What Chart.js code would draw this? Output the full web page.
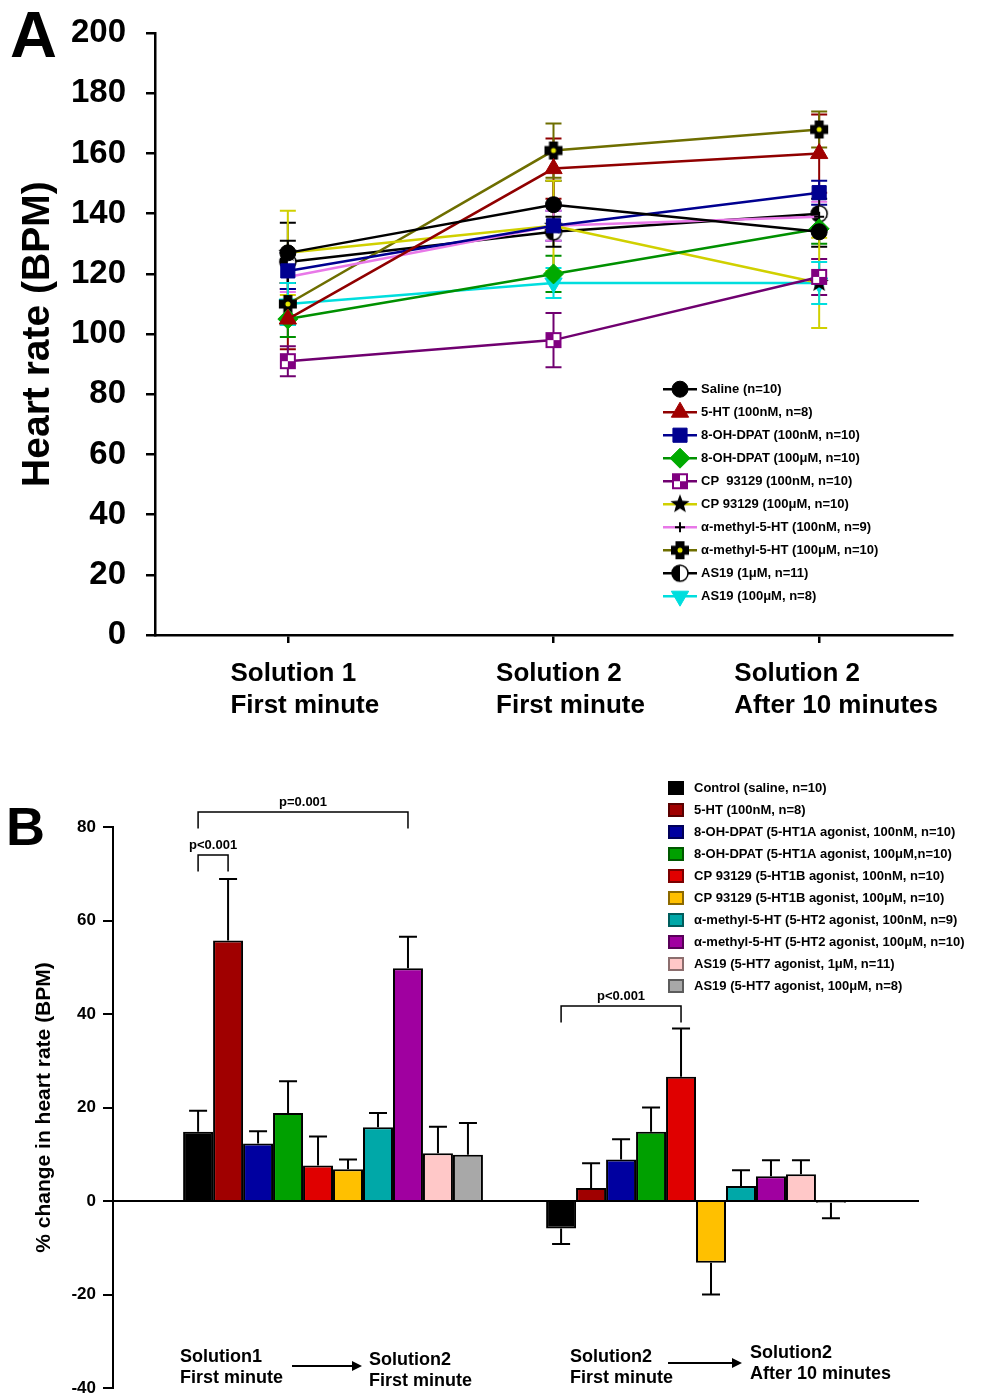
<!DOCTYPE html>
<html>
<head>
<meta charset="utf-8">
<script src="https://cdn.jsdelivr.net/npm/chart.js@4.4.0/dist/chart.umd.min.js"></script>
<style>
  html, body { margin: 0; padding: 0; background: #fff; overflow: hidden; }
  #boxA { position: absolute; left: 0; top: 0; }
  #boxB { position: absolute; left: 0; top: 740px; }
</style>
</head>
<body>
<canvas id="boxA" width="987" height="740"></canvas>
<canvas id="boxB" width="987" height="670"></canvas>
<script>
const FONT = '"Liberation Sans", Arial, Helvetica, sans-serif';
Chart.defaults.font.family = FONT;
Chart.defaults.color = '#000';

// ---------- panel A : heart rate (BPM) per stage ----------
const stagesA = [['Solution 1', 'First minute'], ['Solution 2', 'First minute'], ['Solution 2', 'After 10 minutes']];
const seriesA = [
  'Saline (n=10)', '5-HT (100nM, n=8)', '8-OH-DPAT (100nM, n=10)', '8-OH-DPAT (100μM, n=10)',
  'CP  93129 (100nM, n=10)', 'CP 93129 (100μM, n=10)', 'α-methyl-5-HT (100nM, n=9)',
  'α-methyl-5-HT (100μM, n=10)', 'AS19 (1μM, n=11)', 'AS19 (100μM, n=8)'
];
const salineBpm = [127, 143, 134],      salineSem = [10, 8, 5];
const serotoninBpm = [105, 155, 160],   serotoninSem = [10, 10, 13];
const dpatLowBpm = [121, 136, 147],     dpatLowSem = [6, 5, 4];
const dpatHighBpm = [105, 120, 135],    dpatHighSem = [6, 6, 5];
const cpLowBpm = [91, 98, 119],         cpLowSem = [5, 9, 6];
const cpHighBpm = [127, 136, 117],      cpHighSem = [14, 15, 15];
const methylLowBpm = [119, 136, 139],   methylLowSem = [5, 5, 5];
const methylHighBpm = [110, 161, 168],  methylHighSem = [7, 9, 6];
const as19LowBpm = [124, 134, 140],     as19LowSem = [7, 5, 5];
const as19HighBpm = [110, 117, 117],    as19HighSem = [7, 5, 7];

const meansA = [salineBpm, serotoninBpm, dpatLowBpm, dpatHighBpm, cpLowBpm, cpHighBpm, methylLowBpm, methylHighBpm, as19LowBpm, as19HighBpm];
const semsA = [salineSem, serotoninSem, dpatLowSem, dpatHighSem, cpLowSem, cpHighSem, methylLowSem, methylHighSem, as19LowSem, as19HighSem];

// ---------- panel B : % change in heart rate ----------
const treatmentsB = [
  'Control (saline, n=10)', '5-HT (100nM, n=8)', '8-OH-DPAT (5-HT1A agonist, 100nM, n=10)',
  '8-OH-DPAT (5-HT1A agonist, 100μM,n=10)', 'CP 93129 (5-HT1B agonist, 100nM, n=10)',
  'CP 93129 (5-HT1B agonist, 100μM, n=10)', 'α-methyl-5-HT (5-HT2 agonist, 100nM, n=9)',
  'α-methyl-5-HT (5-HT2 agonist, 100μM, n=10)', 'AS19 (5-HT7 agonist, 1μM, n=11)',
  'AS19 (5-HT7 agonist, 100μM, n=8)'
];
const changeFirstSwitch = [14.8, 55.7, 12.3, 18.8, 7.6, 6.8, 15.8, 49.8, 10.2, 9.9];
const semFirstSwitch    = [4.5, 13.2, 2.6, 6.8, 6.2, 2.1, 3.0, 6.7, 5.7, 6.8];
const changeAfter10     = [-5.9, 2.8, 8.9, 14.8, 26.6, -13.2, 3.2, 5.3, 5.7, -0.4];
const semAfter10        = [3.3, 5.3, 4.3, 5.2, 10.3, 6.8, 3.4, 3.4, 3.0, 3.3];
const switchesB = [
  [['Solution1', 'First minute'], ['Solution2', 'First minute']],
  [['Solution2', 'First minute'], ['Solution2', 'After 10 minutes']]
];
const comparisons = [
  { group: 0, from: 0, to: 7, level: 83.2, text: 'p=0.001' },
  { group: 0, from: 0, to: 1, level: 74.0, text: 'p<0.001' },
  { group: 1, from: 0, to: 4, level: 41.7, text: 'p<0.001' }
];

// ---------- marker images ----------
function makeMarker(size, paint) {
  const c = document.createElement('canvas');
  c.width = size; c.height = size;
  paint(c.getContext('2d'), size / 2);
  return c;
}
const starMarker = makeMarker(22, (g, m) => {
  g.beginPath();
  for (let k = 0; k < 10; k++) {
    const r = k % 2 ? 4.2 : 10;
    const a = -Math.PI / 2 + k * Math.PI / 5;
    g.lineTo(m + r * Math.cos(a), m + r * Math.sin(a));
  }
  g.closePath(); g.fillStyle = '#000'; g.fill();
});
const checkerMarker = makeMarker(18, (g) => {
  g.fillStyle = '#fff'; g.fillRect(1, 1, 16, 16);
  g.fillStyle = '#800080';
  g.fillRect(1, 1, 8, 8); g.fillRect(9, 9, 8, 8);
  g.strokeStyle = '#800080'; g.lineWidth = 2; g.strokeRect(2, 2, 14, 14);
});
const plusMarker = makeMarker(20, (g, m) => {
  g.fillStyle = '#000';
  g.fillRect(m - 9, m - 4.5, 18, 9);
  g.fillRect(m - 4.5, m - 9, 9, 18);
  g.fillStyle = '#e8e800';
  g.beginPath(); g.arc(m, m, 2.5, 0, Math.PI * 2); g.fill();
});
const halfMarker = makeMarker(20, (g, m) => {
  g.fillStyle = '#fff'; g.beginPath(); g.arc(m, m, 8, 0, Math.PI * 2); g.fill();
  g.fillStyle = '#000'; g.beginPath(); g.arc(m, m, 8, Math.PI / 2, Math.PI * 1.5); g.fill();
  g.strokeStyle = '#000'; g.lineWidth = 1.5; g.beginPath(); g.arc(m, m, 8, 0, Math.PI * 2); g.stroke();
});

const lookA = [
  { line: '#000000', style: 'circle', fill: '#000000', r: 8 },
  { line: '#900000', style: 'triangle', fill: '#a00000', r: 10 },
  { line: '#000090', style: 'rect', fill: '#000090', r: 10 },
  { line: '#009000', style: 'rectRot', fill: '#00aa00', r: 10 },
  { line: '#700070', style: checkerMarker, r: 8 },
  { line: '#d0d000', style: starMarker, r: 8 },
  { line: '#e878e8', style: 'cross', fill: '#000000', edge: '#000000', r: 5, bw: 2 },
  { line: '#6e6e00', style: plusMarker, r: 8 },
  { line: '#000000', style: halfMarker, r: 8 },
  { line: '#00dede', style: 'triangle', fill: '#00dede', r: 10, rot: 180 }
];

const datasetsA = seriesA.map((name, i) => ({
  label: name,
  data: meansA[i],
  sem: semsA[i],
  borderColor: lookA[i].line,
  borderWidth: 2.5,
  pointStyle: lookA[i].style,
  pointRadius: lookA[i].r,
  pointBackgroundColor: lookA[i].fill || lookA[i].line,
  pointBorderColor: lookA[i].edge || lookA[i].fill || lookA[i].line,
  pointBorderWidth: lookA[i].bw || 1,
  pointRotation: lookA[i].rot || 0,
  tension: 0,
  fill: false
}));

const errorBarsA = {
  id: 'errorBarsA',
  beforeDatasetsDraw(chart) {
    const ctx = chart.ctx, ys = chart.scales.y;
    ctx.save();
    ctx.lineWidth = 2;
    chart.data.datasets.forEach((ds, i) => {
      ctx.strokeStyle = ds.borderColor;
      chart.getDatasetMeta(i).data.forEach((pt, j) => {
        const top = ys.getPixelForValue(ds.data[j] + ds.sem[j]);
        const bot = ys.getPixelForValue(ds.data[j] - ds.sem[j]);
        ctx.beginPath();
        ctx.moveTo(pt.x, top); ctx.lineTo(pt.x, bot);
        ctx.moveTo(pt.x - 8, top); ctx.lineTo(pt.x + 8, top);
        ctx.moveTo(pt.x - 8, bot); ctx.lineTo(pt.x + 8, bot);
        ctx.stroke();
      });
    });
    ctx.restore();
  }
};

const decorA = {
  id: 'decorA',
  afterDraw(chart) {
    const { ctx, chartArea } = chart;
    const xs = chart.scales.x;
    ctx.save();
    ctx.fillStyle = '#000';
    ctx.textAlign = 'left';
    ctx.textBaseline = 'middle';
    // stage names, two lines, left-aligned block under each tick
    ctx.font = 'bold 26px ' + FONT;
    chart.data.labels.forEach((lines, i) => {
      const cx = xs.getPixelForValue(i);
      const w = Math.max(...lines.map(t => ctx.measureText(t).width));
      const left = cx + 17 - w / 2;
      lines.forEach((t, k) => ctx.fillText(t, left, chartArea.bottom + 39 + 32 * k));
    });
    // legend inside the plot, lower right
    const lx = chartArea.left + 508, ly = chartArea.top + 356;
    ctx.font = 'bold 13px ' + FONT;
    chart.data.datasets.forEach((ds, i) => {
      const y = ly + 23 * i;
      ctx.strokeStyle = ds.borderColor; ctx.lineWidth = 2.5;
      ctx.beginPath(); ctx.moveTo(lx, y); ctx.lineTo(lx + 34, y); ctx.stroke();
      ctx.fillStyle = ds.pointBackgroundColor;
      ctx.strokeStyle = ds.pointBorderColor;
      ctx.lineWidth = ds.pointBorderWidth;
      Chart.helpers.drawPoint(ctx, {
        pointStyle: ds.pointStyle, radius: ds.pointRadius,
        rotation: ds.pointRotation, borderWidth: ds.pointBorderWidth
      }, lx + 17, y);
      ctx.fillStyle = '#000';
      ctx.fillText(ds.label, lx + 38, y);
    });
    ctx.font = 'bold 65px ' + FONT;
    ctx.textBaseline = 'alphabetic';
    ctx.fillText('A', 10, 57);
    ctx.restore();
  }
};

new Chart(document.getElementById('boxA'), {
  type: 'line',
  data: { labels: stagesA, datasets: datasetsA },
  options: {
    responsive: false,
    animation: false,
    events: [],
    layout: { padding: { top: 33, right: 35, bottom: 0, left: 0 } },
    plugins: { legend: { display: false }, tooltip: { enabled: false } },
    scales: {
      x: {
        offset: true,
        ticks: { display: false },
        grid: { drawOnChartArea: false, color: '#000', lineWidth: 2.5, tickLength: 8 },
        border: { color: '#000', width: 2.5 },
        afterFit: s => { s.height = 105; }
      },
      y: {
        min: 0, max: 200,
        ticks: { stepSize: 20, padding: 20, font: { size: 33, weight: 'bold', lineHeight: 0.8 }, color: '#000' },
        grid: { drawOnChartArea: false, color: '#000', lineWidth: 2.5, tickLength: 9 },
        border: { color: '#000', width: 2.5 },
        title: {
          display: true, text: 'Heart rate (BPM)', color: '#000',
          font: { size: 39, weight: 'bold' }, padding: { top: 15, bottom: 0 }
        },
        afterFit: s => { s.width = 155; }
      }
    }
  },
  plugins: [errorBarsA, decorA]
});

// ---------- panel B chart ----------
const barColors = ['#000000', '#a00000', '#0000a0', '#00a000', '#e00000', '#ffc000', '#00a8a8', '#a000a0', '#ffc8c8', '#a8a8a8'];

const datasetsB = treatmentsB.map((name, i) => ({
  label: name,
  data: [{ x: 1, y: changeFirstSwitch[i] }, { x: 2, y: changeAfter10[i] }],
  sem: [semFirstSwitch[i], semAfter10[i]],
  backgroundColor: barColors[i],
  borderColor: '#000',
  borderWidth: 2,
  categoryPercentage: 0.826,
  barPercentage: 1
}));

const decorB = {
  id: 'decorB',
  afterDatasetsDraw(chart) {
    const { ctx } = chart;
    const ys = chart.scales.y;
    ctx.save();
    ctx.strokeStyle = '#000';
    ctx.lineWidth = 2;
    chart.data.datasets.forEach((ds, i) => {
      chart.getDatasetMeta(i).data.forEach((bar, j) => {
        const v = ds.data[j].y, e = ds.sem[j];
        const y0 = ys.getPixelForValue(v);
        const y1 = ys.getPixelForValue(v >= 0 ? v + e : v - e);
        ctx.beginPath();
        ctx.moveTo(bar.x, y0); ctx.lineTo(bar.x, y1);
        ctx.moveTo(bar.x - 9, y1); ctx.lineTo(bar.x + 9, y1);
        ctx.stroke();
      });
    });
    ctx.restore();
  },
  afterDraw(chart) {
    const { ctx, chartArea } = chart;
    const xs = chart.scales.x, ys = chart.scales.y;
    ctx.save();
    ctx.fillStyle = '#000';
    ctx.strokeStyle = '#000';

    // significance brackets
    ctx.lineWidth = 1.5;
    ctx.font = 'bold 13px ' + FONT;
    ctx.textAlign = 'center';
    ctx.textBaseline = 'bottom';
    comparisons.forEach(c => {
      const x0 = chart.getDatasetMeta(c.from).data[c.group].x;
      const x1 = chart.getDatasetMeta(c.to).data[c.group].x;
      const y = ys.getPixelForValue(c.level);
      const yd = ys.getPixelForValue(c.level - 3.5);
      ctx.beginPath();
      ctx.moveTo(x0, yd); ctx.lineTo(x0, y); ctx.lineTo(x1, y); ctx.lineTo(x1, yd);
      ctx.stroke();
      ctx.fillText(c.text, (x0 + x1) / 2, y - 3);
    });

    // legend, top right
    const lx = chartArea.left + 555, ly = chartArea.top - 39;
    ctx.textAlign = 'left';
    ctx.textBaseline = 'middle';
    chart.data.datasets.forEach((ds, i) => {
      const y = ly + 22 * i;
      ctx.fillStyle = ds.backgroundColor;
      ctx.fillRect(lx, y - 7, 16, 14);
      ctx.strokeStyle = 'rgba(0,0,0,0.45)';
      ctx.lineWidth = 2;
      ctx.strokeRect(lx + 1, y - 6, 14, 12);
      ctx.fillStyle = '#000';
      ctx.fillText(ds.label, lx + 26, y);
    });

    // stage transitions under each group
    const place = [
      { left: -153, leftY: 617, arrow: [-41, 29], arrowY: 626, right: 36, rightY: 620 },
      { left: -126, leftY: 617, arrow: [-28, 46], arrowY: 623, right: 54, rightY: 613 }
    ];
    ctx.font = 'bold 18px ' + FONT;
    ctx.fillStyle = '#000';
    ctx.strokeStyle = '#000';
    switchesB.forEach((pair, g) => {
      const cx = xs.getPixelForValue(g + 1);
      const p = place[g];
      pair[0].forEach((t, k) => ctx.fillText(t, cx + p.left, p.leftY + 21 * k));
      pair[1].forEach((t, k) => ctx.fillText(t, cx + p.right, p.rightY + 21 * k));
      const a0 = cx + p.arrow[0], a1 = cx + p.arrow[1];
      ctx.lineWidth = 2;
      ctx.beginPath(); ctx.moveTo(a0, p.arrowY); ctx.lineTo(a1 - 6, p.arrowY); ctx.stroke();
      ctx.beginPath();
      ctx.moveTo(a1, p.arrowY); ctx.lineTo(a1 - 10, p.arrowY - 5); ctx.lineTo(a1 - 10, p.arrowY + 5);
      ctx.closePath(); ctx.fill();
    });

    ctx.font = 'bold 54px ' + FONT;
    ctx.textBaseline = 'alphabetic';
    ctx.fillText('B', 6, 105);
    ctx.restore();
  }
};

new Chart(document.getElementById('boxB'), {
  type: 'bar',
  data: { datasets: datasetsB },
  options: {
    responsive: false,
    animation: false,
    events: [],
    layout: { padding: { top: 87, right: 69, bottom: 22, left: 0 } },
    plugins: { legend: { display: false }, tooltip: { enabled: false } },
    scales: {
      x: {
        type: 'linear',
        min: 0.3939, max: 2.6115,
        bounds: 'data',
        offset: false,
        position: { y: 0 },
        afterBuildTicks: s => { s.ticks = [{ value: 1 }, { value: 2 }]; },
        ticks: { display: false },
        grid: { display: false },
        border: { color: '#000', width: 2 }
      },
      y: {
        min: -40, max: 80,
        ticks: { stepSize: 20, padding: 7, font: { size: 17, weight: 'bold', lineHeight: 0.8 }, color: '#000' },
        grid: { drawOnChartArea: false, color: '#000', lineWidth: 2, tickLength: 10 },
        border: { color: '#000', width: 2 },
        title: {
          display: true, text: '% change in heart rate (BPM)', color: '#000',
          font: { size: 21, weight: 'bold' }, padding: { top: 32, bottom: 0 }
        },
        afterFit: s => { s.width = 113; }
      }
    }
  },
  plugins: [decorB]
});
</script>
</body>
</html>
